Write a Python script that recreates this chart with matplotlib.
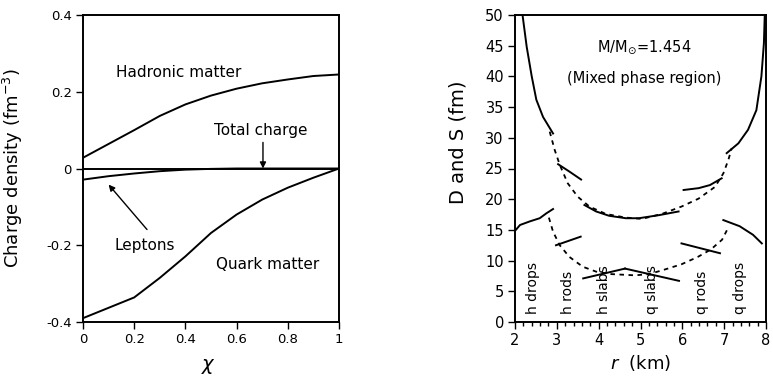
import matplotlib
matplotlib.use("Agg")
import matplotlib.pyplot as plt
from matplotlib.ticker import MultipleLocator

# ---- left panel: charge densities vs chi ----
chi = [0.0, 0.1, 0.2, 0.3, 0.4, 0.5, 0.6, 0.7, 0.8, 0.9, 1.0]
hadronic = [0.028, 0.064, 0.100, 0.137, 0.167, 0.190, 0.208, 0.222, 0.232, 0.241, 0.245]
quark = [-0.390, -0.363, -0.336, -0.285, -0.229, -0.168, -0.120, -0.081, -0.050, -0.024, 0.0]
leptons = [-0.029, -0.020, -0.013, -0.007, -0.003, -0.001, 0.0, 0.0, 0.0, 0.0, 0.0]
total = [0.0, 0.0, 0.0, 0.0, 0.0, 0.0, 0.0, 0.0, 0.0, 0.0, 0.0]

# ---- right panel: D (upper) and S (lower) vs r ----
d_hdrops_r = [2.18, 2.28, 2.40, 2.51, 2.67, 2.91]
d_hdrops = [50.0, 44.8, 40.0, 36.2, 33.4, 30.7]
d_hrods_r = [3.03, 3.30, 3.58]
d_hrods = [25.7, 24.5, 23.2]
d_slabs_r = [3.66, 3.94, 4.25, 4.65, 4.96, 5.44, 5.91]
d_slabs = [19.05, 18.0, 17.3, 16.9, 16.9, 17.4, 18.0]
d_qrods_r = [6.03, 6.39, 6.66, 6.94]
d_qrods = [21.5, 21.8, 22.3, 23.4]
d_qdrops_r = [7.06, 7.34, 7.57, 7.77, 7.89, 7.95, 7.97]
d_qdrops = [27.5, 29.1, 31.3, 34.5, 40.0, 45.4, 50.0]

s_hdrops_r = [2.02, 2.12, 2.36, 2.59, 2.75, 2.91]
s_hdrops = [15.0, 15.8, 16.4, 16.9, 17.7, 18.4]
s_hrods_r = [2.98, 3.57]
s_hrods = [12.5, 13.9]
s_hslabs_r = [3.63, 4.63]
s_hslabs = [7.1, 8.7]
s_qslabs_r = [4.63, 5.92]
s_qslabs = [8.7, 6.7]
s_qrods_r = [5.98, 6.90]
s_qrods = [12.8, 11.2]
s_qdrops_r = [6.98, 7.37, 7.69, 7.90]
s_qdrops = [16.6, 15.6, 14.2, 12.8]

d_dash_r = [2.83, 2.95, 3.07, 3.26, 3.50, 3.78, 4.17, 4.65, 5.04, 5.51, 5.98, 6.39, 6.78, 6.98, 7.10, 7.18]
d_dash = [31.0, 28.0, 25.6, 22.6, 20.4, 18.8, 17.6, 17.0, 16.8, 17.6, 18.8, 20.1, 22.0, 24.2, 26.4, 28.3]
s_dash_r = [2.81, 2.91, 3.07, 3.30, 3.62, 3.94, 4.30, 4.87, 5.20, 5.51, 5.98, 6.37, 6.68, 6.95, 7.10]
s_dash = [17.0, 14.7, 12.5, 10.6, 9.0, 8.2, 7.8, 7.6, 7.8, 8.4, 9.4, 10.6, 11.8, 13.4, 15.4]

phase_labels = ["h drops", "h rods", "h slabs", "q slabs", "q rods", "q drops"]
phase_label_r = [2.43, 3.26, 4.13, 5.28, 6.46, 7.37]

plt.rcParams["font.family"] = "DejaVu Sans"

fig = plt.figure(figsize=(7.73, 3.77), dpi=100)
ax1 = fig.add_axes([83 / 773, 1 - 322 / 377, 256 / 773, 307 / 377])
ax2 = fig.add_axes([515 / 773, 1 - 322 / 377, 251 / 773, 307 / 377])

lw = 1.4
for ax in (ax1, ax2):
    for s in ax.spines.values():
        s.set_linewidth(1.4)

# left
ax1.plot(chi, hadronic, color="black", lw=lw)
ax1.plot(chi, quark, color="black", lw=lw)
ax1.plot(chi, leptons, color="black", lw=lw)
ax1.plot(chi, total, color="black", lw=lw)
ax1.set_xlim(0, 1)
ax1.set_ylim(-0.4, 0.4)
ax1.set_xticks([0, 0.2, 0.4, 0.6, 0.8, 1.0])
ax1.set_xticklabels(["0", "0.2", "0.4", "0.6", "0.8", "1"])
ax1.set_yticks([-0.4, -0.2, 0, 0.2, 0.4])
ax1.set_yticklabels(["-0.4", "-0.2", "0", "0.2", "0.4"])
ax1.tick_params(direction="out", length=5, width=1, labelsize=9.5, pad=3)
ax1.set_ylabel("Charge density (fm$^{-3}$)", fontsize=13)
ax1.yaxis.set_label_coords(-0.225, 0.5)
ax1.set_xlabel(r"$\chi$", fontsize=14)
ax1.xaxis.set_label_coords(0.49, -0.115)

ax1.text(0.13, 0.25, "Hadronic matter", fontsize=11, va="center", ha="left")
ax1.text(0.51, 0.10, "Total charge", fontsize=11, va="center", ha="left")
ax1.text(0.125, -0.20, "Leptons", fontsize=11, va="center", ha="left")
ax1.text(0.52, -0.25, "Quark matter", fontsize=11, va="center", ha="left")
ax1.annotate("", xy=(0.703, 0.0), xytext=(0.703, 0.068),
             arrowprops=dict(arrowstyle="-|>", color="black", lw=1.0,
                             mutation_scale=9, shrinkA=0, shrinkB=0))
ax1.annotate("", xy=(0.10, -0.042), xytext=(0.25, -0.159),
             arrowprops=dict(arrowstyle="-|>", color="black", lw=1.0,
                             mutation_scale=9, shrinkA=0, shrinkB=0))

# right
for r, v in [(d_hdrops_r, d_hdrops), (d_hrods_r, d_hrods), (d_slabs_r, d_slabs),
             (d_qrods_r, d_qrods), (d_qdrops_r, d_qdrops),
             (s_hdrops_r, s_hdrops), (s_hrods_r, s_hrods), (s_hslabs_r, s_hslabs),
             (s_qslabs_r, s_qslabs), (s_qrods_r, s_qrods), (s_qdrops_r, s_qdrops)]:
    ax2.plot(r, v, color="black", lw=lw)
ax2.plot(d_dash_r, d_dash, color="black", lw=1.3, ls=(0, (2.5, 2.5)))
ax2.plot(s_dash_r, s_dash, color="black", lw=1.3, ls=(0, (2.5, 2.5)))

ax2.set_xlim(2, 8)
ax2.set_ylim(0, 50)
ax2.xaxis.set_major_locator(MultipleLocator(1))
ax2.xaxis.set_minor_locator(MultipleLocator(0.2))
ax2.yaxis.set_major_locator(MultipleLocator(5))
ax2.tick_params(direction="out", length=5, width=1, labelsize=10.5, pad=3)
ax2.tick_params(axis="x", which="minor", direction="out", length=3, width=1)
ax2.set_ylabel("D and S (fm)", fontsize=14)
ax2.yaxis.set_label_coords(-0.19, 0.585)
ax2.set_xlabel(r"$r$  (km)", fontsize=13)
ax2.xaxis.set_label_coords(0.5, -0.1)

ax2.text(5.08, 44.8, r"M/M$_{\odot}$=1.454", fontsize=10.5, ha="center", va="center")
ax2.text(5.08, 39.7, "(Mixed phase region)", fontsize=10.5, ha="center", va="center")
for lab, r in zip(phase_labels, phase_label_r):
    ax2.text(r, 1.3, lab, rotation=90, fontsize=10, ha="center", va="bottom")

fig.savefig("out.png", dpi=100)
